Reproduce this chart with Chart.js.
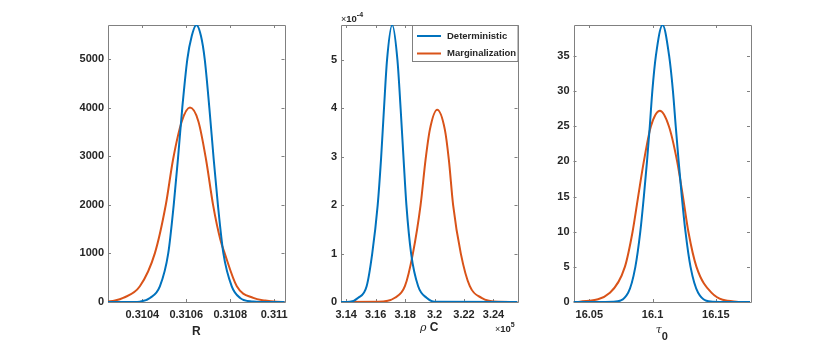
<!DOCTYPE html>
<html>
<head>
<meta charset="utf-8">
<script src="https://cdn.jsdelivr.net/npm/chart.js@4.4.1/dist/chart.umd.min.js"></script>
<style>
html, body { margin: 0; padding: 0; background: #fff; }
#wrap { position: relative; width: 830px; height: 344px; }
#wrap canvas { position: absolute; left: 0; top: 0; }
</style>
</head>
<body>
<div id="wrap">
<canvas id="c1" width="830" height="344"></canvas>
<canvas id="c2" width="830" height="344"></canvas>
<canvas id="c3" width="830" height="344"></canvas>
</div>
<script>
// values

// panel 1: R
const rTicks = [0.3104, 0.3106, 0.3108, 0.311];
const rTickLabels = ['0.3104', '0.3106', '0.3108', '0.311'];
const rYTicks = [0, 1000, 2000, 3000, 4000, 5000];
const rYTickLabels = ['0', '1000', '2000', '3000', '4000', '5000'];
const rDetX = [0.31024, 0.31036, 0.310389, 0.310435, 0.31048, 0.310518, 0.310543, 0.310562, 0.310582, 0.310605, 0.310625, 0.310646, 0.310667, 0.310684, 0.310705, 0.310725, 0.310744, 0.310769, 0.310807, 0.310845, 0.310904, 0.31094, 0.31105];
const rDetY = [0, 0, 8, 84, 323, 1000, 2000, 2933, 4000, 5000, 5473, 5700, 5473, 5000, 4000, 2933, 2000, 1000, 323, 84, 8, 0, 0];
const rMargX = [0.31024, 0.310276, 0.310313, 0.310389, 0.310457, 0.310507, 0.31054, 0.31058, 0.310617, 0.310655, 0.31069, 0.310722, 0.310755, 0.310775, 0.31083, 0.310905, 0.310959, 0.311012, 0.31105];
const rMargY = [8, 30, 84, 323, 1000, 2000, 2933, 3720, 4000, 3720, 2933, 2000, 1285, 1000, 323, 84, 30, 5, 2];

// panel 2: rho C
const pcTicks = [314000, 316000, 318000, 320000, 322000, 324000];
const pcTickLabels = ['3.14', '3.16', '3.18', '3.2', '3.22', '3.24'];
const pcYTicks = [0, 1e-4, 2e-4, 3e-4, 4e-4, 5e-4];
const pcYTickLabels = ['0', '1', '2', '3', '4', '5'];
const pcDetX = [313650, 314258, 314820, 315390, 315769, 316140, 316365, 316565, 316775, 317126, 317480, 317700, 317900, 318090, 318410, 318888, 319458, 320021, 325630];
const pcDetY = [0, 0.005e-4, 0.087e-4, 0.326e-4, 1.0e-4, 2.0e-4, 2.94e-4, 3.98e-4, 5.0e-4, 5.72e-4, 5.0e-4, 3.98e-4, 2.94e-4, 2.0e-4, 1.0e-4, 0.326e-4, 0.087e-4, 0.005e-4, 0];
const pcMargX = [313650, 316176, 317309, 317987, 318529, 319051, 319390, 319682, 320177, 320699, 320970, 321261, 321783, 322394, 323187, 324312, 325630];
const pcMargY = [0, 0.003e-4, 0.087e-4, 0.326e-4, 1.0e-4, 2.0e-4, 2.94e-4, 3.56e-4, 3.97e-4, 3.56e-4, 2.94e-4, 2.0e-4, 1.0e-4, 0.326e-4, 0.087e-4, 0.003e-4, 0];

// panel 3: tau_0
const tTicks = [16.05, 16.1, 16.15];
const tTickLabels = ['16.05', '16.1', '16.15'];
const tYTicks = [0, 5, 10, 15, 20, 25, 30, 35];
const tYTickLabels = ['0', '5', '10', '15', '20', '25', '30', '35'];
const tDetX = [16.0375, 16.0689, 16.0807, 16.0864, 16.0903, 16.0931, 16.0956, 16.0978, 16.0998, 16.1026, 16.1079, 16.1131, 16.1161, 16.1183, 16.1206, 16.1231, 16.126, 16.13, 16.136, 16.1478, 16.177];
const tDetY = [0, 0.05, 1.33, 5, 10, 15, 20, 25, 30, 35, 39.4, 35, 30, 25, 20, 15, 10, 5, 1.33, 0.05, 0];
const tMargX = [16.0375, 16.0426, 16.0663, 16.0781, 16.0842, 16.0886, 16.0931, 16.0987, 16.1058, 16.1129, 16.1194, 16.124, 16.1283, 16.1347, 16.1465, 16.1663, 16.177];
const tMargY = [0, 0.05, 1.33, 5, 10, 15, 20, 25, 27.2, 25, 20, 15, 10, 5, 1.33, 0.05, 0];

const seriesNames = ['Deterministic', 'Marginalization'];

const BLUE = '#0072BD';
const ORANGE = '#D95319';
const TEXT = '#262626';
const AXIS = '#808080';
const FONT = '"Liberation Sans", Arial, Helvetica, sans-serif';
const SERIF = '"DejaVu Serif", "Liberation Serif", serif';

function pts(xs, ys) {
    return xs.map((x, i) => ({ x: x, y: ys[i] }));
}

function drawParts(ctx, parts, x, y) {
    for (const p of parts) {
        ctx.font = p.font;
        ctx.fillText(p.text, x, y + (p.dy || 0));
        x += ctx.measureText(p.text).width;
    }
}

function partsWidth(ctx, parts) {
    let w = 0;
    for (const p of parts) {
        ctx.font = p.font;
        w += ctx.measureText(p.text).width;
    }
    return w;
}

// box round the axes and inward tick marks, like matlab draws them
const frame = {
    id: 'frame',
    beforeDatasetsDraw(chart) {
        const ctx = chart.ctx;
        const a = chart.chartArea;
        const xs = chart.scales.x, ys = chart.scales.y;
        const tl = 3;
        ctx.save();
        ctx.strokeStyle = AXIS;
        ctx.lineWidth = 1;
        ctx.beginPath();
        for (const t of xs.ticks) {
            const px = Math.round(xs.getPixelForValue(t.value)) + 0.5;
            ctx.moveTo(px, a.bottom); ctx.lineTo(px, a.bottom - tl);
            ctx.moveTo(px, a.top); ctx.lineTo(px, a.top + tl);
        }
        for (const t of ys.ticks) {
            const py = Math.round(ys.getPixelForValue(t.value)) + 0.5;
            ctx.moveTo(a.left, py); ctx.lineTo(a.left + tl, py);
            ctx.moveTo(a.right, py); ctx.lineTo(a.right - tl, py);
        }
        ctx.rect(Math.round(a.left) + 0.5, Math.round(a.top) + 0.5,
                 Math.round(a.right - a.left), Math.round(a.bottom - a.top));
        ctx.stroke();
        ctx.restore();
    }
};

const labels = {
    id: 'labels',
    afterDraw(chart, args, opts) {
        const ctx = chart.ctx;
        const a = chart.chartArea;
        ctx.save();
        ctx.fillStyle = TEXT;
        ctx.textBaseline = 'alphabetic';
        ctx.textAlign = 'left';
        const w = partsWidth(ctx, opts.title);
        drawParts(ctx, opts.title, (a.left + a.right) / 2 - w / 2, opts.titleY);
        for (const n of (opts.notes || [])) {
            drawParts(ctx, n.parts, n.x, n.y);
        }
        if (opts.legend) {
            const L = opts.legend;
            ctx.fillStyle = '#ffffff';
            ctx.fillRect(L.left, L.top, L.width, L.height);
            ctx.strokeStyle = AXIS;
            ctx.lineWidth = 1;
            ctx.strokeRect(L.left + 0.5, L.top + 0.5, L.width, L.height);
            chart.data.datasets.forEach((ds, i) => {
                const y = L.top + 11 + i * 17.5;
                ctx.strokeStyle = ds.borderColor;
                ctx.lineWidth = 2;
                ctx.beginPath();
                ctx.moveTo(L.left + 5, y);
                ctx.lineTo(L.left + 29, y);
                ctx.stroke();
                ctx.fillStyle = TEXT;
                ctx.font = 'bold 9.5px ' + FONT;
                ctx.textBaseline = 'middle';
                ctx.fillText(ds.label, L.left + 35, y);
            });
        }
        ctx.restore();
    }
};

function makePanel(id, cfg) {
    const tickFont = { family: FONT, size: 11, weight: 'bold' };
    return new Chart(document.getElementById(id), {
        type: 'line',
        data: {
            datasets: [
                { label: seriesNames[0], data: pts(cfg.det[0], cfg.det[1]), borderColor: BLUE },
                { label: seriesNames[1], data: pts(cfg.marg[0], cfg.marg[1]), borderColor: ORANGE }
            ]
        },
        options: {
            responsive: false,
            animation: false,
            events: [],
            layout: { padding: { left: cfg.left - 40, right: 830 - cfg.right, top: 25, bottom: 12 } },
            elements: {
                point: { radius: 0 },
                line: { borderWidth: 2, fill: false, cubicInterpolationMode: 'monotone' }
            },
            plugins: {
                legend: { display: false },
                tooltip: { enabled: false },
                labels: { title: cfg.title, titleY: cfg.titleY, notes: cfg.notes, legend: cfg.legend }
            },
            scales: {
                x: {
                    type: 'linear',
                    min: cfg.xMin,
                    max: cfg.xMax,
                    afterFit: (s) => { s.height = 30; },
                    afterBuildTicks: (s) => { s.ticks = cfg.xTicks.map(v => ({ value: v })); },
                    ticks: {
                        autoSkip: false, maxRotation: 0, minRotation: 0, padding: 6,
                        font: tickFont, color: TEXT,
                        callback: (v, i) => cfg.xLabels[i]
                    },
                    grid: { display: false, drawTicks: false },
                    border: { display: false }
                },
                y: {
                    type: 'linear',
                    min: 0,
                    max: cfg.yMax,
                    afterFit: (s) => { s.width = 40; },
                    afterBuildTicks: (s) => { s.ticks = cfg.yTicks.map(v => ({ value: v })); },
                    ticks: {
                        autoSkip: false, padding: 4,
                        font: tickFont, color: TEXT,
                        callback: (v, i) => cfg.yLabels[i]
                    },
                    grid: { display: false, drawTicks: false },
                    border: { display: false }
                }
            }
        },
        plugins: [frame, labels]
    });
}

const boldTitle = 'bold 12px ' + FONT;

makePanel('c1', {
    left: 108, right: 284.5,
    xMin: 0.310244, xMax: 0.311047, yMax: 5700,
    xTicks: rTicks, xLabels: rTickLabels, yTicks: rYTicks, yLabels: rYTickLabels,
    det: [rDetX, rDetY], marg: [rMargX, rMargY],
    title: [{ text: 'R', font: boldTitle }], titleY: 335
});

makePanel('c2', {
    left: 341, right: 517.5,
    xMin: 313650, xMax: 325630, yMax: 5.72e-4,
    xTicks: pcTicks, xLabels: pcTickLabels, yTicks: pcYTicks, yLabels: pcYTickLabels,
    det: [pcDetX, pcDetY], marg: [pcMargX, pcMargY],
    title: [{ text: 'ρ', font: 'italic 11px ' + SERIF }, { text: ' C', font: boldTitle }], titleY: 331,
    notes: [
        { x: 341, y: 21.5, parts: [{ text: '×', font: '9px ' + FONT }, { text: '10', font: 'bold 9.5px ' + FONT }, { text: '-4', font: 'bold 7px ' + FONT, dy: -5 }] },
        { x: 495, y: 331.5, parts: [{ text: '×', font: '9px ' + FONT }, { text: '10', font: 'bold 9.5px ' + FONT }, { text: '5', font: 'bold 7px ' + FONT, dy: -5 }] }
    ],
    legend: { left: 412, top: 25, width: 105.5, height: 36 }
});

makePanel('c3', {
    left: 573.5, right: 750,
    xMin: 16.0375, xMax: 16.177, yMax: 39.4,
    xTicks: tTicks, xLabels: tTickLabels, yTicks: tYTicks, yLabels: tYTickLabels,
    det: [tDetX, tDetY], marg: [tMargX, tMargY],
    title: [{ text: 'τ', font: 'italic 11px ' + SERIF }, { text: '0', font: 'bold 11px ' + FONT, dy: 7 }], titleY: 333
});
</script>
</body>
</html>
